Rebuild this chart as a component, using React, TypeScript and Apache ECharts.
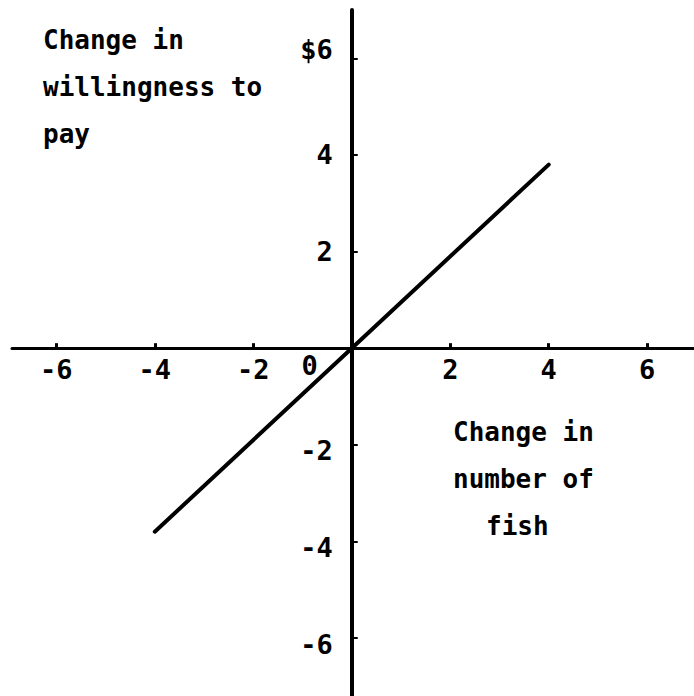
import React, { useEffect, useRef } from "react";
import * as echarts from "echarts";

const xTickValues = [-6, -4, -2, 2, 4, 6];
const yTickValues = [-6, -4, -2, 2, 4, 6];
const yTickLabels: Record<string, string> = { "6": "$6", "4": "4", "2": "2", "-2": "-2", "-4": "-4", "-6": "-6" };
const lineX = [-4, 0, 4];
const lineY = [-3.8, 0, 3.8];
const yTitleLines = ["Change in", "willingness to", "pay"];
const xTitleLines = ["Change in", "number of"];
const xTitleLast = "fish";

const FONT = "'DejaVu Sans Mono', 'Liberation Mono', monospace";

export default function App() {
  const ref = useRef<HTMLDivElement>(null);
  useEffect(() => {
    if (!ref.current) return;
    const chart = echarts.init(ref.current, null, { renderer: "svg" });
    const lineData = lineX.map((x, i) => [x, lineY[i]]);
    const labelStyle = {
      color: "#000",
      fontFamily: FONT,
      fontWeight: "bold",
      fontSize: 27,
      opacity: 1,
    };
    const graphics: any[] = [];
    yTitleLines.forEach((t, i) => {
      graphics.push({
        type: "text",
        left: 43,
        top: 27 + i * 47,
        style: { text: t, font: `bold 26px ${FONT}`, fill: "#000" },
      });
    });
    xTitleLines.forEach((t, i) => {
      graphics.push({
        type: "text",
        left: 453,
        top: 419 + i * 47,
        style: { text: t, font: `bold 26px ${FONT}`, fill: "#000" },
      });
    });
    graphics.push({
      type: "text",
      left: 486,
      top: 419 + 2 * 47,
      style: { text: xTitleLast, font: `bold 26px ${FONT}`, fill: "#000" },
    });

    chart.setOption({
      animation: false,
      backgroundColor: "#fff",
      grid: {
        left: 12,
        top: 10,
        width: 682,
        height: 686,
        containLabel: false,
        outerBoundsMode: "none",
      },
      xAxis: {
        type: "value",
        min: -6.9,
        max: 6.95,
        splitLine: { show: false },
        axisLine: { onZero: true, lineStyle: { color: "#000", width: 3 } },
        axisTick: {
          show: true,
          inside: true,
          length: 5,
          customValues: xTickValues,
          lineStyle: { color: "#000", width: 3 },
        },
        axisLabel: { show: false },
      },
      yAxis: {
        type: "value",
        min: -7.2,
        max: 7.0,
        splitLine: { show: false },
        axisLine: { onZero: true, lineStyle: { color: "#000", width: 4 } },
        axisTick: {
          show: true,
          inside: true,
          length: 6,
          customValues: yTickValues,
          lineStyle: { color: "#000", width: 2 },
        },
        axisLabel: { show: false },
      },
      series: [
        {
          type: "line",
          data: lineData,
          showSymbol: false,
          symbol: "none",
          lineStyle: { color: "#000", width: 4, cap: "round" },
          z: 3,
        },
        {
          type: "scatter",
          data: xTickValues.map((v) => [v, 0]),
          symbolSize: 0,
          silent: true,
          itemStyle: { opacity: 1, color: "#000" },
          label: {
            show: true,
            position: "bottom",
            distance: 8,
            formatter: (p: any) => String(p.value[0]),
            ...labelStyle,
          },
          z: 4,
        },
        {
          type: "scatter",
          data: yTickValues.map((v) => ({
            value: [0, v],
            label: v === 6 ? { offset: [0, -9] } : v < 0 ? { offset: [0, 6] } : {},
          })),
          symbolSize: 0,
          silent: true,
          itemStyle: { opacity: 1, color: "#000" },
          label: {
            show: true,
            position: "left",
            distance: 19,
            formatter: (p: any) => yTickLabels[String(p.value[1])] ?? "",
            ...labelStyle,
          },
          z: 4,
        },
        {
          type: "scatter",
          data: [[0, 0]],
          symbolSize: 0,
          silent: true,
          itemStyle: { opacity: 1, color: "#000" },
          label: {
            show: true,
            position: "left",
            distance: 34,
            offset: [0, 17],
            formatter: "0",
            ...labelStyle,
          },
          z: 4,
        },
      ],
      graphic: graphics,
    });
    return () => chart.dispose();
  }, []);
  return (
    <div
      ref={ref}
      style={{ position: "absolute", left: 0, top: 0, width: 694, height: 696 }}
    />
  );
}
